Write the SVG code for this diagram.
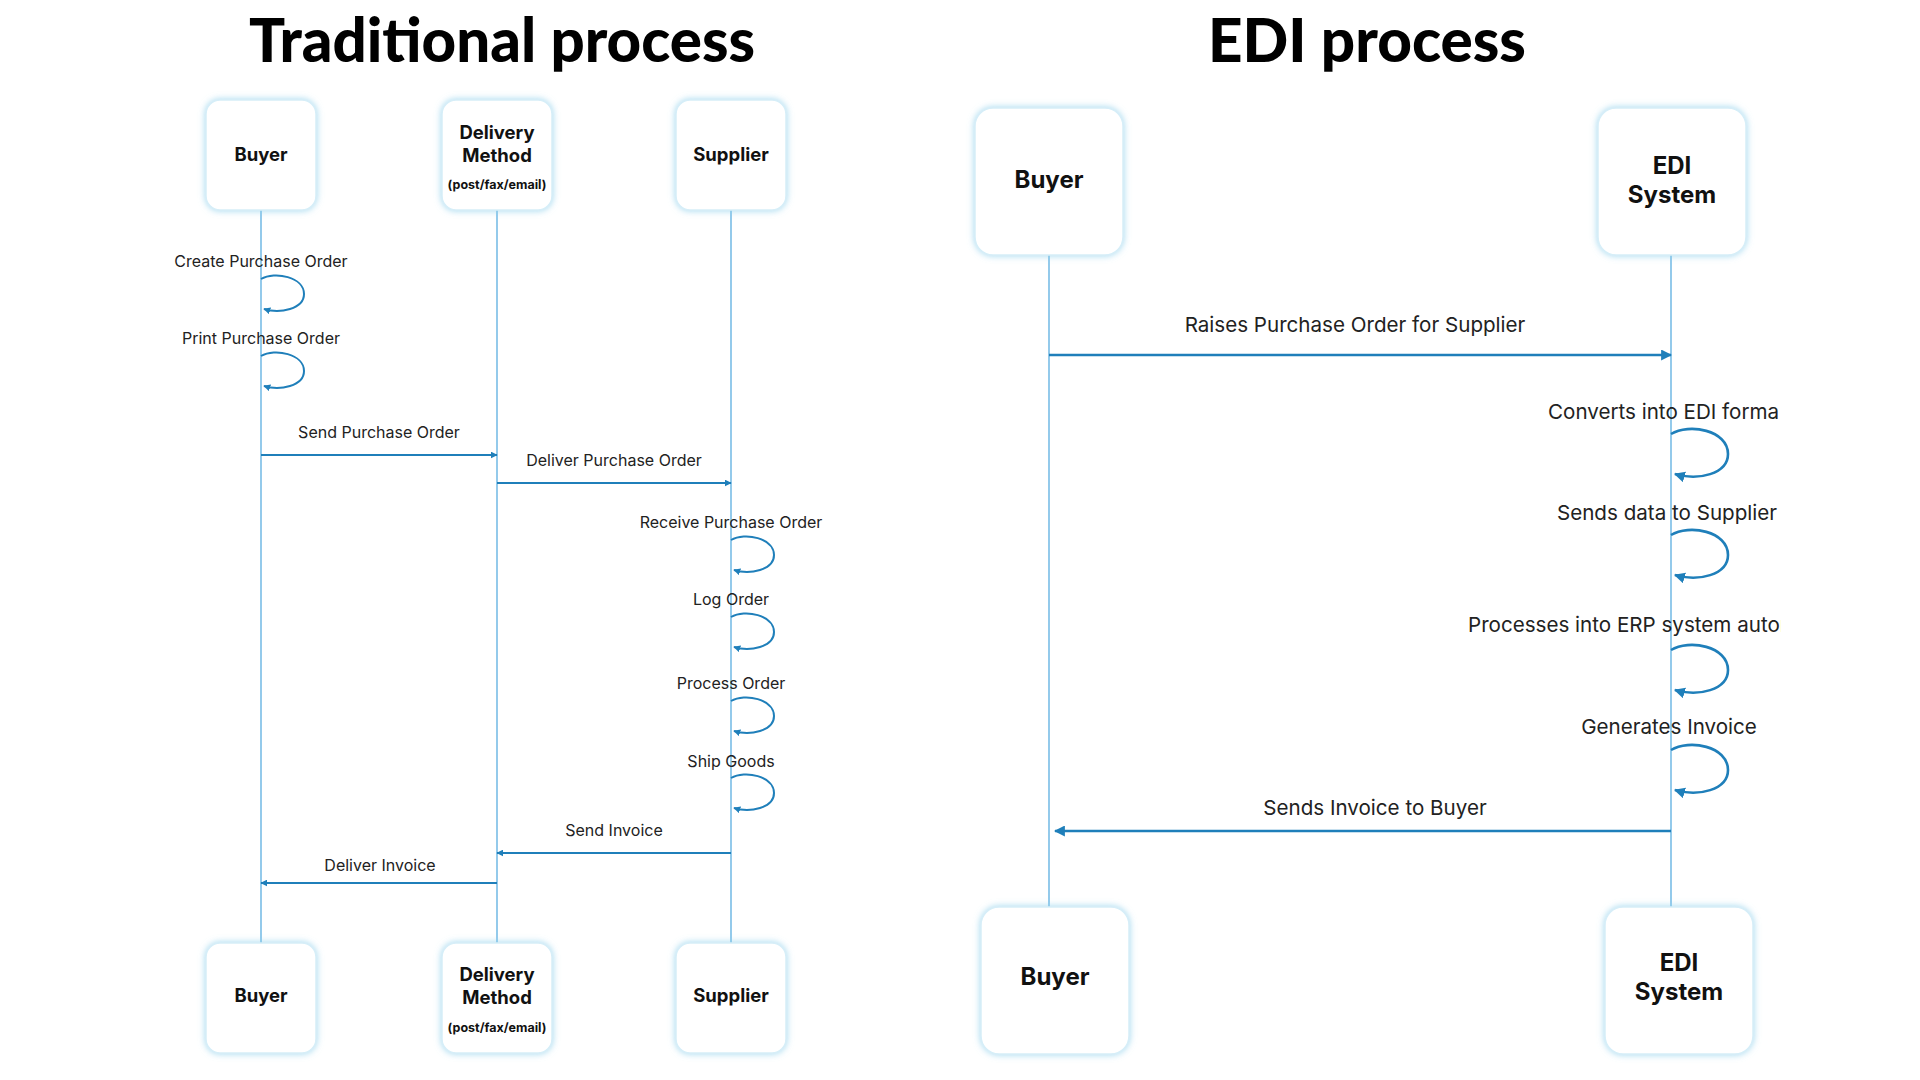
<svg xmlns="http://www.w3.org/2000/svg" width="1920" height="1080" viewBox="0 0 1920 1080">
<defs>
<filter id="glow" x="-20%" y="-20%" width="140%" height="140%">
<feDropShadow dx="0" dy="0" stdDeviation="3.5" flood-color="#8fd0ec" flood-opacity="0.85"/>
</filter>
<marker id="ahS" viewBox="0 0 10 10" refX="9" refY="5" markerWidth="7" markerHeight="7" markerUnits="userSpaceOnUse" orient="auto"><path d="M0,0 L10,5 L0,10 z" fill="#1f7fba"/></marker>
<marker id="ahL" viewBox="0 0 10 10" refX="9" refY="5" markerWidth="11" markerHeight="11" markerUnits="userSpaceOnUse" orient="auto"><path d="M0,0 L10,5 L0,10 z" fill="#1f7fba"/></marker>
<clipPath id="rclip"><rect x="900" y="0" width="881" height="1080"/></clipPath>
</defs>
<style>
.title{font-family:Lato,"Liberation Sans",sans-serif;font-weight:900;font-size:60px;fill:#000;text-anchor:middle}
.box{fill:#fff;stroke:#d6eef8;stroke-width:1.5;filter:url(#glow)}
.nl{font-family:Inter,"Liberation Sans",sans-serif;font-weight:700;fill:#111;text-anchor:middle}
.s{font-size:18.5px}
.b{font-size:24px}
.sub{font-size:12.5px}
.life{stroke:#5aaee0;stroke-width:1.3;fill:none}
.lbl{font-family:Inter,"Liberation Sans",sans-serif;fill:#222;text-anchor:middle}
.ls{font-size:16px}
.lb{font-size:20.6px}
.st{text-anchor:start}
.msg{stroke:#1f7fba;stroke-width:2;fill:none}
.msgL{stroke:#1f7fba;stroke-width:2.6;fill:none}
</style>
<rect width="1920" height="1080" fill="#fff"/>
<text class="title" x="502" y="62" textLength="506" lengthAdjust="spacingAndGlyphs">Traditional process</text>
<text class="title" x="1367" y="62" textLength="318" lengthAdjust="spacingAndGlyphs">EDI process</text>

<g id="lifelines">
<line class="life" x1="261" y1="210" x2="261" y2="943"/>
<line class="life" x1="497" y1="210" x2="497" y2="943"/>
<line class="life" x1="731" y1="210" x2="731" y2="943"/>
<line class="life" x1="1049" y1="255" x2="1049" y2="907"/>
<line class="life" x1="1671" y1="255" x2="1671" y2="907"/>
</g>

<g id="node-buyer-top"><rect class="box" x="206" y="100" width="110" height="110" rx="14"/><text class="nl s" x="261" y="161">Buyer</text></g>
<g id="node-delivery-top"><rect class="box" x="442" y="100" width="110" height="110" rx="14"/><text class="nl s" x="497" y="139">Delivery</text><text class="nl s" x="497" y="162">Method</text><text class="nl sub" x="497" y="189">(post/fax/email)</text></g>
<g id="node-supplier-top"><rect class="box" x="676" y="100" width="110" height="110" rx="14"/><text class="nl s" x="731" y="161">Supplier</text></g>
<g id="node-buyer-bottom"><rect class="box" x="206" y="943" width="110" height="110" rx="14"/><text class="nl s" x="261" y="1002">Buyer</text></g>
<g id="node-delivery-bottom"><rect class="box" x="442" y="943" width="110" height="110" rx="14"/><text class="nl s" x="497" y="981">Delivery</text><text class="nl s" x="497" y="1004">Method</text><text class="nl sub" x="497" y="1032">(post/fax/email)</text></g>
<g id="node-supplier-bottom"><rect class="box" x="676" y="943" width="110" height="110" rx="14"/><text class="nl s" x="731" y="1002">Supplier</text></g>

<g id="node-edi-buyer-top"><rect class="box" x="975" y="108" width="148" height="147" rx="18"/><text class="nl b" x="1049" y="188">Buyer</text></g>
<g id="node-edi-system-top"><rect class="box" x="1598" y="108" width="148" height="147" rx="18"/><text class="nl b" x="1672" y="174">EDI</text><text class="nl b" x="1672" y="203">System</text></g>
<g id="node-edi-buyer-bottom"><rect class="box" x="981" y="907" width="148" height="147" rx="18"/><text class="nl b" x="1055" y="985">Buyer</text></g>
<g id="node-edi-system-bottom"><rect class="box" x="1605" y="907" width="148" height="147" rx="18"/><text class="nl b" x="1679" y="971">EDI</text><text class="nl b" x="1679" y="1000">System</text></g>

<g id="connectors">
<path class="msg" marker-end="url(#ahS)" d="M261,279 C275,271 304,277 304,294 C304,309 280,314 264,309"/>
<path class="msg" marker-end="url(#ahS)" d="M261,356 C275,348 304,354 304,371 C304,386 280,391 264,386"/>
<line class="msg" x1="261" y1="455" x2="497" y2="455" marker-end="url(#ahS)"/>
<line class="msg" x1="497" y1="483" x2="731" y2="483" marker-end="url(#ahS)"/>
<path class="msg" marker-end="url(#ahS)" d="M731,540 C745,532 774,538 774,555 C774,570 750,575 734,570"/>
<path class="msg" marker-end="url(#ahS)" d="M731,617 C745,609 774,615 774,632 C774,647 750,652 734,647"/>
<path class="msg" marker-end="url(#ahS)" d="M731,701 C745,693 774,699 774,716 C774,731 750,736 734,731"/>
<path class="msg" marker-end="url(#ahS)" d="M731,778 C745,770 774,776 774,793 C774,808 750,813 734,808"/>
<line class="msg" x1="731" y1="853" x2="497" y2="853" marker-end="url(#ahS)"/>
<line class="msg" x1="497" y1="883" x2="261" y2="883" marker-end="url(#ahS)"/>

<line class="msgL" x1="1049" y1="355" x2="1671" y2="355" marker-end="url(#ahL)"/>
<path class="msgL" marker-end="url(#ahL)" d="M1671,434 C1689,423 1728,430 1728,454 C1728,474 1698,481 1675,474"/>
<path class="msgL" marker-end="url(#ahL)" d="M1671,535 C1689,524 1728,531 1728,555 C1728,575 1698,582 1675,575"/>
<path class="msgL" marker-end="url(#ahL)" d="M1671,650 C1689,639 1728,646 1728,670 C1728,690 1698,697 1675,690"/>
<path class="msgL" marker-end="url(#ahL)" d="M1671,750 C1689,739 1728,746 1728,770 C1728,790 1698,797 1675,790"/>
<line class="msgL" x1="1671" y1="831" x2="1055" y2="831" marker-end="url(#ahL)"/>
</g>

<g id="labels">
<text class="lbl ls" x="261" y="267">Create Purchase Order</text>
<text class="lbl ls" x="261" y="344">Print Purchase Order</text>
<text class="lbl ls" x="379" y="438">Send Purchase Order</text>
<text class="lbl ls" x="614" y="466">Deliver Purchase Order</text>
<text class="lbl ls" x="731" y="528">Receive Purchase Order</text>
<text class="lbl ls" x="731" y="605">Log Order</text>
<text class="lbl ls" x="731" y="689">Process Order</text>
<text class="lbl ls" x="731" y="767">Ship Goods</text>
<text class="lbl ls" x="614" y="836">Send Invoice</text>
<text class="lbl ls" x="380" y="871">Deliver Invoice</text>

<text class="lbl lb" x="1355" y="332">Raises Purchase Order for Supplier</text>
<g clip-path="url(#rclip)">
<text class="lbl lb st" x="1548" y="419">Converts into EDI forma</text>
<text class="lbl lb st" x="1468" y="632">Processes into ERP system autom</text>
</g>
<text class="lbl lb" x="1667" y="520">Sends data to Supplier</text>
<text class="lbl lb" x="1669" y="734">Generates Invoice</text>
<text class="lbl lb" x="1375" y="815">Sends Invoice to Buyer</text>
</g>
</svg>
